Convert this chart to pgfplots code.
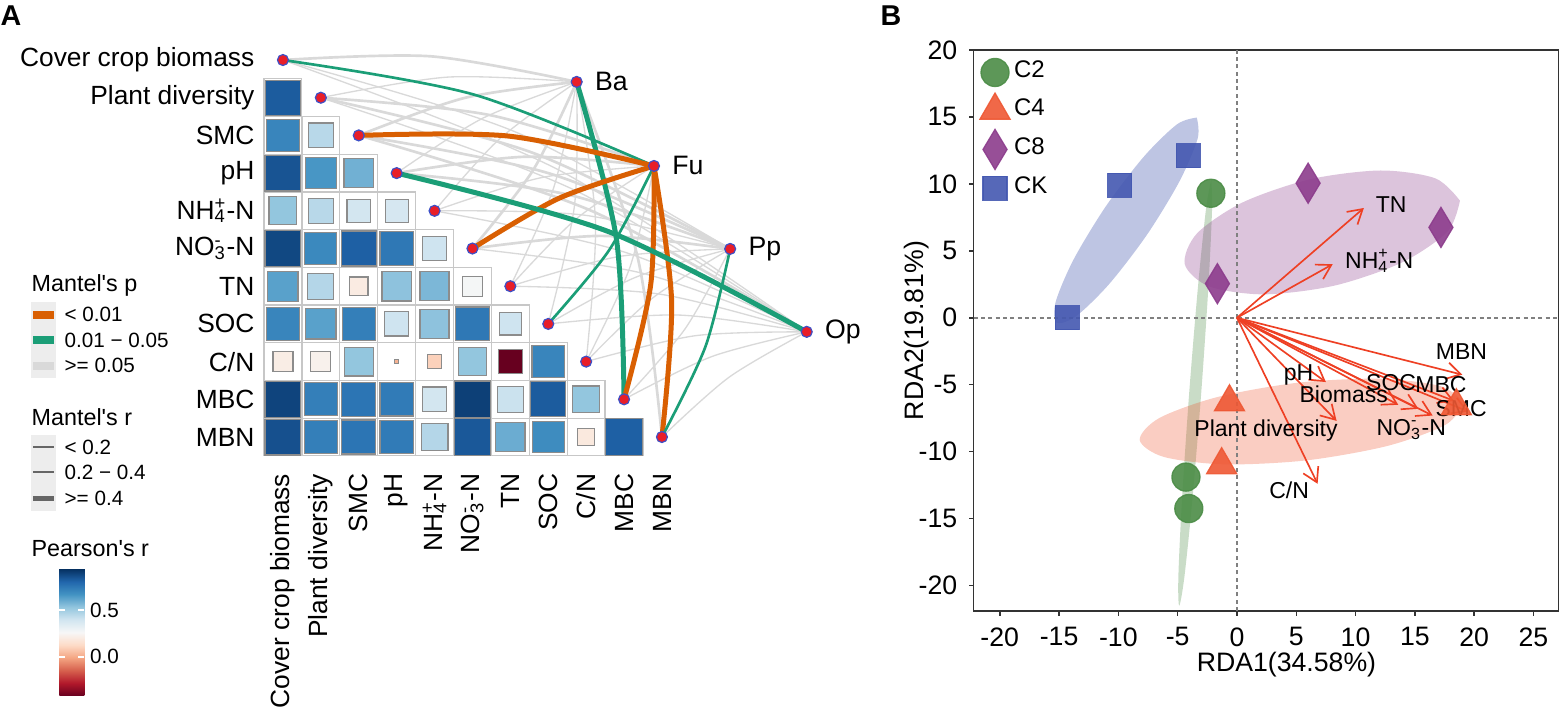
\documentclass[border=0pt]{standalone}
\usepackage{fontspec}
\setmainfont{Liberation Sans}
\usepackage{pgfplots}
\usepackage{pgfplotstable}
\pgfplotsset{compat=1.18}
\usetikzlibrary{arrows.meta}

\definecolor{pOr}{RGB}{217,95,2}
\definecolor{pGr}{RGB}{27,158,119}
\definecolor{lGray}{RGB}{217,217,217}
\definecolor{dRed}{RGB}{232,30,40}
\definecolor{dBlue}{RGB}{60,80,200}
\definecolor{cC2}{RGB}{75,140,70}
\definecolor{cC4}{RGB}{238,88,52}
\definecolor{cC8}{RGB}{140,60,140}
\definecolor{cCK}{RGB}{68,88,176}
\definecolor{arr}{RGB}{238,64,36}

\newcommand\ssp[2]{\rlap{\textsuperscript{#2}}\textsubscript{#1}}
\newcommand\fz[1]{\fontsize{#1}{#1}\selectfont}

\pgfplotsset{
  lx/.style={smooth, draw=lGray, forget plot},
  lo/.style={smooth, draw=pOr, forget plot},
  lg/.style={smooth, draw=pGr, forget plot},
  wa/.style={line width=0.4pt},
  wb/.style={line width=0.8pt},
  wc/.style={line width=1.5pt},
  ar/.style={arr, line width=0.5pt, -{Straight Barb[length=4.2pt,width=5pt]}, forget plot},
}

% Pearson's r between environmental factors (lower triangle), s = square side
\pgfplotstableread{
x y r s
0 -1 0.83 0.93
0 -2 0.71 0.86
1 -2 0.45 0.66
0 -3 0.85 0.95
1 -3 0.66 0.81
2 -3 0.59 0.78
0 -4 0.53 0.74
1 -4 0.45 0.66
2 -4 0.39 0.62
3 -4 0.38 0.61
0 -5 0.88 0.95
1 -5 0.70 0.85
2 -5 0.82 0.93
3 -5 0.75 0.88
4 -5 0.40 0.65
0 -6 0.63 0.80
1 -6 0.46 0.69
2 -6 0.20 0.49
3 -6 0.54 0.78
4 -6 0.57 0.77
5 -6 0.27 0.53
0 -7 0.71 0.86
1 -7 0.63 0.80
2 -7 0.73 0.88
3 -7 0.40 0.64
4 -7 0.54 0.77
5 -7 0.75 0.90
6 -7 0.40 0.59
0 -8 0.21 0.53
1 -8 0.23 0.53
2 -8 0.53 0.76
3 -8 0.02 0.12
4 -8 0.10 0.38
5 -8 0.53 0.73
6 -8 -0.42 0.65
7 -8 0.71 0.86
0 -9 0.89 0.95
1 -9 0.73 0.87
2 -9 0.76 0.90
3 -9 0.74 0.88
4 -9 0.39 0.65
5 -9 0.90 0.97
6 -9 0.41 0.68
7 -9 0.83 0.93
8 -9 0.53 0.71
0 -10 0.86 0.95
1 -10 0.73 0.87
2 -10 0.76 0.90
3 -10 0.74 0.88
4 -10 0.46 0.71
5 -10 0.84 0.96
6 -10 0.60 0.78
7 -10 0.69 0.84
8 -10 0.19 0.46
9 -10 0.82 0.97
}\cells

\begin{document}
\begin{tikzpicture}
\useasboundingbox (0,0) rectangle (468.3pt,-213.6pt);

% ---------------- panel A ----------------
\begin{axis}[
  at={(79.2pt,-136.76pt)}, anchor=south west,
  x=11.37pt, y=11.31pt,
  xmin=-0.5, xmax=14.5, ymin=-10.5, ymax=0.5,
  clip=false,
  axis line style={draw=none},
  major tick length=0pt,
  xtick={0,...,10}, ytick={-10,...,0},
  xticklabels={{Cover crop biomass},{Plant diversity},SMC,pH,{NH\ssp{4}{+}-N},{NO\ssp{3}{-}-N},TN,SOC,C/N,MBC,MBN},
  yticklabels={MBN,MBC,C/N,SOC,TN,{NO\ssp{3}{-}-N},{NH\ssp{4}{+}-N},pH,SMC,{Plant diversity},{Cover crop biomass}},
  xticklabel style={font=\fz{7.9}, inner sep=0pt, yshift=-5.2pt, rotate=90, anchor=east},
  yticklabel style={font=\fz{7.9}, inner sep=0pt, xshift=-2.7pt, anchor=east},
  colormap={rdbu}{rgb255=(103,0,31) rgb255=(178,24,43) rgb255=(214,96,77) rgb255=(244,165,130) rgb255=(253,219,199) rgb255=(247,247,247) rgb255=(209,229,240) rgb255=(146,197,222) rgb255=(67,147,195) rgb255=(33,102,172) rgb255=(5,48,97)},
  point meta min=-0.42, point meta max=0.94,
  colorbar,
  colorbar style={at={(parent axis.south west)}, anchor=north west,
    xshift=-69.9pt, yshift=-33.9pt, width=7.5pt, height=38.1pt, scale only axis,
    ytick={0,0.5}, yticklabel pos=right,
    yticklabel style={font=\fz{6.2}, /pgf/number format/fixed, /pgf/number format/fixed zerofill,
      /pgf/number format/precision=1, /pgf/number format/assume math mode=true, inner sep=1.5pt},
    axis line style={draw=none}, major tick length=1.8pt, tick align=inside,
    ytick style={draw=white, line width=0.6pt}},
]
% cell grid
\addplot[only marks, mark=square, mark size=5.66pt, mark options={draw=black!22, line width=0.35pt}, forget plot]
  table[x=x,y=y] {\cells};
% correlation squares
\addplot[scatter, only marks, mark=square*, point meta=explicit,
  scatter/use mapped color={draw=black!45, fill=mapped color},
  visualization depends on={\thisrow{s} \as \side},
  scatter/@pre marker code/.append style={/tikz/mark size=5.66pt*\side},
  mark options={line width=0.35pt}, forget plot]
  table[x=x,y=y,meta=r] {\cells};

% Mantel links, gray (p >= 0.05)
\addplot[lx,wb] coordinates {(0,0) (3.904,0.098) (7.75,-0.58)};
\addplot[lx,wa] coordinates {(1,-1) (4.354,-0.453) (7.75,-0.58)};
\addplot[lx,wb] coordinates {(2,-2) (4.804,-1.003) (7.75,-0.58)};
\addplot[lx,wa] coordinates {(3,-3) (5.254,-1.553) (7.75,-0.58)};
\addplot[lx,wa] coordinates {(4,-4) (5.704,-2.103) (7.75,-0.58)};
\addplot[lx,wb] coordinates {(5,-5) (6.596,-2.928) (7.75,-0.58)};
\addplot[lx,wa] coordinates {(6,-6) (7.146,-3.378) (7.75,-0.58)};
\addplot[lx,wa] coordinates {(7,-7) (7.696,-3.828) (7.75,-0.58)};
\addplot[lx,wa] coordinates {(8,-8) (8.246,-4.278) (7.75,-0.58)};
\addplot[lx,wb] coordinates {(10,-10) (9.346,-5.178) (7.75,-0.58)};

\addplot[lx,wb] coordinates {(1,-1) (5.486,-1.466) (9.79,-2.81)};
\addplot[lx,wb] coordinates {(3,-3) (6.386,-2.566) (9.79,-2.81)};
\addplot[lx,wa] coordinates {(4,-4) (6.836,-3.116) (9.79,-2.81)};
\addplot[lx,wa] coordinates {(6,-6) (7.736,-4.216) (9.79,-2.81)};
\addplot[lx,wa] coordinates {(8,-8) (9.155,-5.495) (9.79,-2.81)};

\addplot[lx,wa] coordinates {(0,0) (6.151,-1.915) (11.80,-5.01)};
\addplot[lx,wb] coordinates {(1,-1) (6.601,-2.465) (11.80,-5.01)};
\addplot[lx,wb] coordinates {(2,-2) (7.051,-3.015) (11.80,-5.01)};
\addplot[lx,wb] coordinates {(3,-3) (7.501,-3.565) (11.80,-5.01)};
\addplot[lx,wa] coordinates {(4,-4) (7.951,-4.115) (11.80,-5.01)};
\addplot[lx,wb] coordinates {(5,-5) (8.401,-4.665) (11.80,-5.01)};
\addplot[lx,wa] coordinates {(6,-6) (8.851,-5.215) (11.80,-5.01)};
\addplot[lx,wa] coordinates {(7,-7) (9.301,-5.765) (11.80,-5.01)};
\addplot[lx,wa] coordinates {(8,-8) (9.751,-6.315) (11.80,-5.01)};
\addplot[lx,wa] coordinates {(9,-9) (10.600,-7.145) (11.80,-5.01)};

\addplot[lx,wa] coordinates {(0,0) (7.271,-2.914) (13.82,-7.21)};
\addplot[lx,wa] coordinates {(1,-1) (7.721,-3.464) (13.82,-7.21)};
\addplot[lx,wb] coordinates {(2,-2) (8.171,-4.014) (13.82,-7.21)};
\addplot[lx,wa] coordinates {(4,-4) (9.071,-5.114) (13.82,-7.21)};
\addplot[lx,wa] coordinates {(5,-5) (9.521,-5.664) (13.82,-7.21)};
\addplot[lx,wa] coordinates {(6,-6) (9.971,-6.214) (13.82,-7.21)};
\addplot[lx,wa] coordinates {(7,-7) (10.421,-6.764) (13.82,-7.21)};
\addplot[lx,wa] coordinates {(8,-8) (10.871,-7.314) (13.82,-7.21)};
\addplot[lx,wa] coordinates {(9,-9) (11.321,-7.864) (13.82,-7.21)};
\addplot[lx,wa] coordinates {(10,-10) (11.771,-8.414) (13.82,-7.21)};

% Mantel links, significant
\addplot[lg,wc] coordinates {(9,-9) (8.796,-4.728) (7.75,-0.58)};
\addplot[lg,wb] coordinates {(0,0) (5.036,-0.916) (9.79,-2.81)};
\addplot[lg,wb] coordinates {(7,-7) (8.605,-5.045) (9.79,-2.81)};
\addplot[lo,wc] coordinates {(2,-2) (5.936,-2.016) (9.79,-2.81)};
\addplot[lo,wc] coordinates {(5,-5) (7.286,-3.666) (9.79,-2.81)};
\addplot[lo,wc] coordinates {(9,-9) (9.705,-5.945) (9.79,-2.81)};
\addplot[lo,wc] coordinates {(10,-10) (10.255,-6.395) (9.79,-2.81)};
\addplot[lg,wb] coordinates {(10,-10) (11.150,-7.595) (11.80,-5.01)};
\addplot[lg,wc] coordinates {(3,-3) (8.621,-4.564) (13.82,-7.21)};

% nodes
\addplot[only marks, mark=*, mark size=1.65pt, mark options={fill=dRed, draw=dBlue, line width=0.35pt}, forget plot]
  coordinates {(0,0) (1,-1) (2,-2) (3,-3) (4,-4) (5,-5) (6,-6) (7,-7) (8,-8) (9,-9) (10,-10)
  (7.75,-0.58) (9.79,-2.81) (11.80,-5.01) (13.82,-7.21)};
\node[anchor=west, inner sep=0pt, xshift=5.3pt, font=\fz{8}] at (axis cs:7.75,-0.58) {Ba};
\node[anchor=west, inner sep=0pt, xshift=5.3pt, font=\fz{8}] at (axis cs:9.79,-2.81) {Fu};
\node[anchor=west, inner sep=0pt, xshift=5.3pt, font=\fz{8}] at (axis cs:11.80,-5.01) {Pp};
\node[anchor=west, inner sep=0pt, xshift=5.3pt, font=\fz{8}] at (axis cs:13.82,-7.21) {Op};
\end{axis}

% ---------------- panel B ----------------
\begin{axis}[
  at={(292.1pt,-183.3pt)}, anchor=south west,
  width=175.4pt, height=168.3pt, scale only axis,
  xmin=-22.2, xmax=27.1, ymin=-21.9, ymax=20,
  xtick={-20,-15,...,25}, ytick={-20,-15,...,20},
  tick pos=left, tick align=outside, major tick length=1.4pt,
  axis line style={line width=0.45pt, black!80},
  every tick/.style={black!80, line width=0.45pt},
  ticklabel style={font=\fz{8}},
  /pgf/number format/assume math mode=true,
  xlabel={RDA1(34.58\%)}, ylabel={RDA2(19.81\%)},
  label style={font=\fz{8}},
  xlabel style={at={(axis description cs:0.535,-0.096)}, anchor=center},
  ylabel style={at={(axis description cs:-0.097,0.5)}, anchor=center},
  legend image code/.code={\draw[#1] plot coordinates {(0pt,0pt)};},
  legend style={at={(axis description cs:0.004,0.995)}, anchor=north west, draw=none, fill=none,
    font=\fz{7.2}, inner xsep=1pt, inner ysep=0pt, row sep=0pt,
    nodes={inner sep=1.2pt, text height=6pt, text depth=3pt}},
  legend cell align=left,
]
% group ellipses
\addplot[fill=cC2, fill opacity=0.3, draw=none, smooth, forget plot] coordinates {
 (-2.170,10.300) (-2.603,8.186) (-3.281,2.379) (-4.024,-5.567) (-4.631,-13.521) (-4.941,-19.352)
 (-4.870,-21.500) (-4.437,-19.386) (-3.759,-13.579) (-3.016,-5.634) (-2.409,2.321) (-2.099,8.152) (-2.170,10.300)};
\addplot[fill=cC4, fill opacity=0.3, draw=none, smooth, forget plot] coordinates {
 (19.200,-6.377) (17.178,-5.111) (12.029,-4.552) (5.129,-4.851) (-1.671,-5.926) (-6.550,-7.489)
 (-8.200,-9.123) (-6.178,-10.389) (-1.029,-10.948) (5.871,-10.649) (12.671,-9.574) (17.550,-8.011) (19.200,-6.377)};
\addplot[fill=cC8, fill opacity=0.3, draw=none, smooth, forget plot] coordinates {
 (18.800,8.748) (16.727,10.415) (12.102,11.000) (6.163,10.345) (0.502,8.626) (-3.365,6.305)
 (-4.400,4.002) (-2.327,2.335) (2.298,1.750) (8.237,2.405) (13.898,4.124) (17.765,6.445) (18.800,8.748)};
\addplot[fill=cCK, fill opacity=0.35, draw=none, smooth, forget plot] coordinates {
 (-3.390,14.950) (-5.053,14.450) (-7.853,12.031) (-11.041,8.342) (-13.763,4.371) (-15.289,1.182)
 (-15.210,-0.370) (-13.547,0.130) (-10.747,2.549) (-7.559,6.238) (-4.837,10.209) (-3.311,13.398) (-3.390,14.950)};
% zero lines
\addplot[gray, line width=0.55pt, dash pattern=on 1.2pt off 1pt, forget plot] coordinates {(-22.2,0) (27.1,0)};
\addplot[gray, line width=0.55pt, dash pattern=on 1.2pt off 1pt, forget plot] coordinates {(0,-21.9) (0,20)};
% samples
\addplot[only marks, mark=*, mark size=4.2pt, mark options={draw=cC2, fill=cC2, opacity=0.9}]
  coordinates {(-2.2,9.3) (-4.3,-11.9) (-4.06,-14.25)};
\addlegendentry{C2}
\addplot[only marks, mark=triangle*, mark size=5.2pt, mark options={draw=cC4, fill=cC4, opacity=0.9}]
  coordinates {(-0.63,-6.3) (-1.29,-11.0) (18.5,-6.6)};
\addlegendentry{C4}
\addplot[only marks, mark=diamond*, mark size=6pt, mark options={draw=cC8, fill=cC8, opacity=0.9, xscale=0.8}]
  coordinates {(6.0,10.05) (17.2,6.75) (-1.65,2.55)};
\addlegendentry{C8}
\addplot[only marks, mark=square*, mark size=3.6pt, mark options={draw=cCK, fill=cCK, opacity=0.9}]
  coordinates {(-14.3,0.0) (-9.9,9.9) (-4.1,12.1)};
\addlegendentry{CK}
% environmental vectors
\addplot[ar] coordinates {(0,0) (10.7,8.2)};
\addplot[ar] coordinates {(0,0) (8.07,4.0)};
\addplot[ar] coordinates {(0,0) (19.0,-4.25)};
\addplot[ar] coordinates {(0,0) (7.5,-4.8)};
\addplot[ar] coordinates {(0,0) (8.4,-7.7)};
\addplot[ar] coordinates {(0,0) (6.8,-12.4)};
\addplot[ar] coordinates {(0,0) (13.6,-6.5)};
\addplot[ar] coordinates {(0,0) (15.3,-6.8)};
\addplot[ar] coordinates {(0,0) (16.5,-7.3)};
\addplot[ar] coordinates {(0,0) (18.3,-6.2)};
\addplot[ar] coordinates {(0,0) (19.5,-7.0)};
\node[font=\fz{6.9}] at (axis cs:13.0,8.45) {TN};
\node[font=\fz{6.9}] at (axis cs:12.0,4.25) {NH\ssp{4}{+}-N};
\node[font=\fz{6.9}] at (axis cs:18.93,-2.55) {MBN};
\node[font=\fz{6.9}] at (axis cs:5.2,-4.25) {pH};
\node[font=\fz{6.9}] at (axis cs:13.0,-4.85) {SOC};
\node[font=\fz{6.9}] at (axis cs:17.2,-5.0) {MBC};
\node[font=\fz{6.9}] at (axis cs:9.0,-5.75) {Biomass};
\node[font=\fz{6.9}] at (axis cs:18.9,-6.75) {SMC};
\node[font=\fz{6.9}] at (axis cs:14.7,-8.35) {NO\ssp{3}{-}-N};
\node[font=\fz{6.9}] at (axis cs:2.45,-8.4) {Plant diversity};
\node[font=\fz{6.9}] at (axis cs:4.4,-12.85) {C/N};
\end{axis}

% ---------------- panel labels and legends ----------------
\begin{scope}[x=0.3pt, y=-0.3pt]
\node[anchor=north west, inner sep=0pt, font=\bfseries\fz{8.6}] at (0,5) {A};
\node[anchor=north west, inner sep=0pt, font=\bfseries\fz{8.6}] at (880,5) {B};
\node[anchor=west, inner sep=0pt, font=\fz{7}] at (31,285) {Mantel\textquotesingle s p};
\fill[black!7] (31,302) rectangle (56,378);
\fill[pOr] (33,311) rectangle (54,319);
\fill[pGr] (33,336) rectangle (54,344);
\fill[lGray] (33,362) rectangle (54,370);
\node[anchor=west, inner sep=0pt, font=\fz{6.2}] at (64,314) {< 0.01};
\node[anchor=west, inner sep=0pt, font=\fz{6.2}] at (64,340) {0.01 − 0.05};
\node[anchor=west, inner sep=0pt, font=\fz{6.2}] at (64,365) {>= 0.05};
\node[anchor=west, inner sep=0pt, font=\fz{7}] at (31,417) {Mantel\textquotesingle s r};
\fill[black!7] (31,435) rectangle (56,511);
\draw[black!60, line width=0.4pt] (33,447) -- (54,447);
\draw[black!60, line width=0.8pt] (33,472) -- (54,472);
\draw[black!60, line width=1.5pt] (33,498) -- (54,498);
\node[anchor=west, inner sep=0pt, font=\fz{6.2}] at (64,447) {< 0.2};
\node[anchor=west, inner sep=0pt, font=\fz{6.2}] at (64,472) {0.2 − 0.4};
\node[anchor=west, inner sep=0pt, font=\fz{6.2}] at (64,498) {>= 0.4};
\node[anchor=west, inner sep=0pt, font=\fz{7}] at (31,549) {Pearson\textquotesingle s r};
\end{scope}
\end{tikzpicture}
\end{document}
